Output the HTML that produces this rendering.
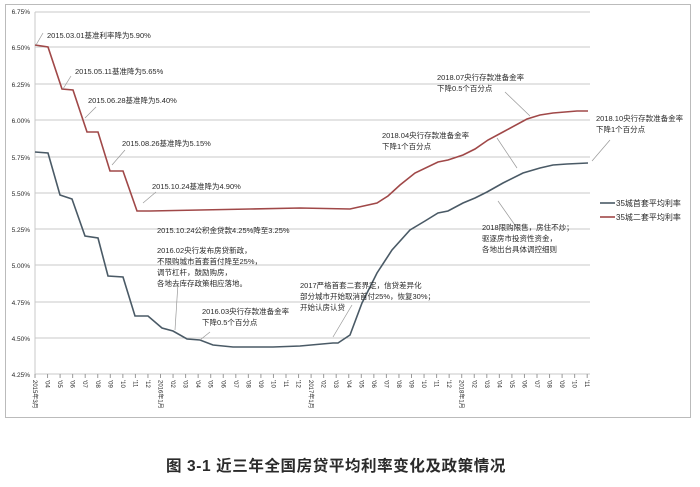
<!DOCTYPE html>
<html><head><meta charset="utf-8"><style>
html,body{margin:0;padding:0;background:#fff;width:700px;height:487px;overflow:hidden}
svg{display:block}
text{font-family:"Liberation Sans","Noto Sans CJK SC",sans-serif;fill:#2a2a2a}
</style></head><body>
<svg width="700" height="487" viewBox="0 0 700 487">
<rect x="5.5" y="4.5" width="685" height="413" fill="#fff" stroke="#bbb"/>
<g stroke="#c8c8c8" stroke-width="1">
<line x1="35" x2="590" y1="12" y2="12"/><line x1="35" x2="590" y1="47" y2="47"/>
<line x1="35" x2="590" y1="84" y2="84"/><line x1="35" x2="590" y1="120" y2="120"/>
<line x1="35" x2="590" y1="157" y2="157"/><line x1="35" x2="590" y1="193" y2="193"/>
<line x1="35" x2="590" y1="229" y2="229"/><line x1="35" x2="590" y1="265" y2="265"/>
<line x1="35" x2="590" y1="302" y2="302"/><line x1="35" x2="590" y1="338" y2="338"/>
<line x1="35" x2="590" y1="374" y2="374"/><line x1="35" x2="35" y1="12" y2="378"/>
</g>
<g font-size="6.5" text-anchor="end">
<text x="30" y="14">6.75%</text><text x="30" y="50">6.50%</text><text x="30" y="87">6.25%</text>
<text x="30" y="123">6.00%</text><text x="30" y="160">5.75%</text><text x="30" y="196">5.50%</text>
<text x="30" y="232">5.25%</text><text x="30" y="268">5.00%</text><text x="30" y="305">4.75%</text>
<text x="30" y="341">4.50%</text><text x="30" y="377">4.25%</text>
</g>
<g id="xt" font-size="6"></g>
<polyline fill="none" stroke="#a04848" stroke-width="1.6" points="35,45 48,47 62,89 73,90 87,132 98,132 110,171 123,171 137,211 150,211 200,210 250,209 300,208 350,209 377,203 388,196 400,185 415,173 438,162 448,160 463,155 475,149 488,140 503,132 527,119 540,115 553,113 577,111 588,111"/>
<polyline fill="none" stroke="#4a5a66" stroke-width="1.6" points="35,152 48,153 60,195 72,199 85,236 98,238 108,276 123,277 135,316 148,316 162,328 173,331 187,339 200,340 213,345 233,347 253,347 273,347 300,346 333,343 338,343 350,335 362,303 377,273 392,250 410,230 425,221 438,213 448,211 463,203 475,198 487,192 503,183 523,173 540,168 553,165 567,164 588,163"/>
<g stroke="#999" stroke-width="0.7">
<line x1="36" y1="45" x2="43" y2="33"/><line x1="63" y1="89" x2="71" y2="76"/>
<line x1="85" y1="118" x2="96" y2="107"/><line x1="112" y1="165" x2="125" y2="150"/>
<line x1="143" y1="203" x2="156" y2="192"/><line x1="175" y1="330" x2="178" y2="283"/>
<line x1="200" y1="340" x2="210" y2="332"/><line x1="333" y1="337" x2="352" y2="305"/>
<line x1="530" y1="116" x2="505" y2="92"/><line x1="592" y1="161" x2="610" y2="140"/>
<line x1="497" y1="138" x2="517" y2="168"/><line x1="498" y1="201" x2="517" y2="228"/>
</g>
<g font-size="7.5">
<text x="47" y="38">2015.03.01基准利率降为5.90%</text>
<text x="75" y="74">2015.05.11基准降为5.65%</text>
<text x="88" y="103">2015.06.28基准降为5.40%</text>
<text x="122" y="146">2015.08.26基准降为5.15%</text>
<text x="152" y="189">2015.10.24基准降为4.90%</text>
<text x="157" y="233">2015.10.24公积金贷款4.25%降至3.25%</text>
<text x="157" y="253">2016.02央行发布房贷新政，</text>
<text x="157" y="264">不限购城市首套首付降至25%，</text>
<text x="157" y="275">调节杠杆，鼓励购房，</text>
<text x="157" y="286">各地去库存政策相应落地。</text>
<text x="202" y="314">2016.03央行存款准备金率</text>
<text x="202" y="325">下降0.5个百分点</text>
<text x="300" y="288">2017严格首套二套界定，信贷差异化</text>
<text x="300" y="299">部分城市开始取消首付25%，恢复30%；</text>
<text x="300" y="310">开始认房认贷</text>
<text x="382" y="138">2018.04央行存款准备金率</text>
<text x="382" y="149">下降1个百分点</text>
<text x="437" y="80">2018.07央行存款准备金率</text>
<text x="437" y="91">下降0.5个百分点</text>
<text x="596" y="121">2018.10央行存款准备金率</text>
<text x="596" y="132">下降1个百分点</text>
<text x="482" y="230">2018限购限售，房住不炒；</text>
<text x="482" y="241">驱逐房市投资性资金，</text>
<text x="482" y="252">各地出台具体调控细则</text>
</g>
<line x1="600" y1="203" x2="615" y2="203" stroke="#4a5a66" stroke-width="1.6"/>
<line x1="600" y1="217" x2="615" y2="217" stroke="#a04848" stroke-width="1.6"/>
<text x="616" y="206" font-size="8">35城首套平均利率</text>
<text x="616" y="220" font-size="8">35城二套平均利率</text>
<text x="336" y="471" font-size="15.5" letter-spacing="0.6" font-weight="bold" text-anchor="middle" fill="#1a1a1a">图 3-1  近三年全国房贷平均利率变化及政策情况</text>
</svg>
<script>
var g=document.getElementById('xt'),ns='http://www.w3.org/2000/svg';
for(var i=0;i<45;i++){var x=35+i*12.55;var mo=(i+2)%12+1;var lab;
if(i==0)lab='2015年3月';else if(mo==1)lab=(2015+Math.floor((i+2)/12))+'年1月';else lab="'"+(mo<10?'0':'')+mo;
var l=document.createElementNS(ns,'line');l.setAttribute('x1',x);l.setAttribute('x2',x);l.setAttribute('y1',374);l.setAttribute('y2',378);l.setAttribute('stroke','#999');g.appendChild(l);
var t=document.createElementNS(ns,'text');t.setAttribute('transform','translate('+(x-2)+',380) rotate(90)');t.textContent=lab;g.appendChild(t);}
</script>
</body></html>
